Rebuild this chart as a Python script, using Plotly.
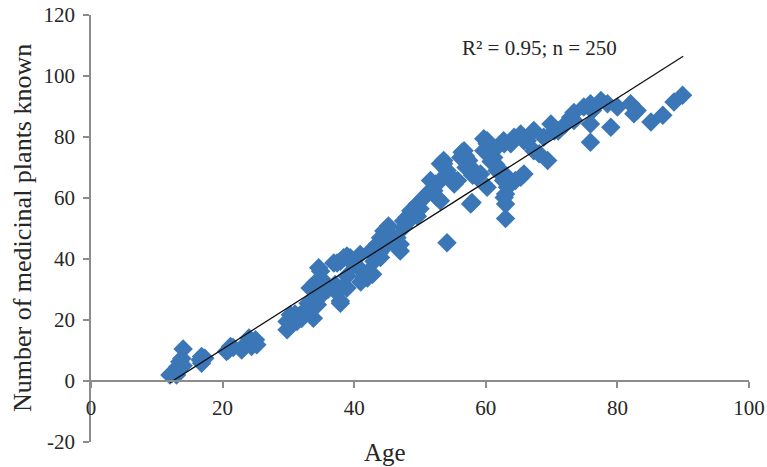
import plotly.graph_objects as go

# Age (x) and number of medicinal plants known (y)
age = [12.0, 12.3, 12.8, 13.2, 13.5, 13.8, 14.0, 14.0, 13.0,
       16.8, 16.8, 16.6, 17.3,
       20.9, 21.2, 20.6, 21.6,
       22.9, 23.4, 24.2, 25.0, 25.2, 24.4, 24.0, 23.8,
       29.8, 29.8, 30.3, 31.3, 31.8, 32.6, 33.3, 33.8, 34.4, 34.6, 33.3, 34.1,
       34.6, 34.9, 35.4, 35.9, 30.5, 31.0, 32.0, 33.0, 35.0,
       36.9, 37.4, 37.9, 38.4, 38.9, 37.1, 37.4, 37.9, 38.1, 38.9, 37.9, 38.9,
       39.4, 39.9, 40.9, 41.2, 42.0, 42.2, 43.0, 42.5, 41.5, 41.0, 42.8, 40.5,
       43.5, 44.0, 44.5, 45.0, 45.2, 44.5, 43.8,
       46.5, 47.0, 47.0, 47.5, 47.5, 48.0, 48.3, 48.6, 49.1, 49.6, 49.6, 50.6,
       51.1, 51.6, 51.6, 52.1, 52.4, 52.6, 53.1, 53.1, 53.1, 53.6, 53.6, 54.1,
       54.1, 55.2, 55.2, 55.7, 56.2, 56.4, 56.7, 56.9, 57.4, 57.7, 57.9, 58.2,
       58.7, 59.2, 59.7, 59.7, 60.2, 60.2, 60.2, 61.2, 61.2, 61.7, 62.7, 62.8,
       62.8, 63.0, 63.0, 63.0, 63.3, 62.7, 62.8, 54.1,
       63.8, 64.3, 64.5, 65.3, 65.3, 65.8, 65.8, 66.3, 67.3, 67.3, 68.1, 68.8,
       69.4, 69.9, 70.4, 71.0, 72.0, 72.9, 73.4, 73.4, 74.9, 75.9, 75.9, 75.9,
       76.2, 77.5, 78.5, 79.0, 80.0, 82.0, 82.5, 83.0, 85.1, 86.9, 88.6, 89.9,
       60.8, 61.5, 57.0, 58.0, 50.0, 46.0, 44.0, 36.0]
known = [2.0, 2.5, 3.1, 4.7, 6.3, 7.4, 10.5, 5.0, 2.0,
         8.0, 5.8, 7.0, 7.5,
         10.2, 11.3, 9.7, 11.0,
         10.2, 11.9, 12.9, 13.5, 11.9, 11.3, 14.1, 12.5,
         16.8, 19.5, 21.7, 19.5, 21.7, 22.8, 23.9, 20.6, 25.0, 27.2, 30.5, 32.2,
         37.1, 36.0, 29.4, 31.0, 18.5, 22.0, 20.5, 25.5, 33.5,
         38.7, 38.7, 39.3, 40.4, 41.0, 31.6, 28.9, 26.2, 30.5, 34.4, 25.5, 30.5,
         40.4, 38.2, 41.5, 36.0, 33.8, 36.0, 39.3, 42.6, 34.0, 32.5, 35.0, 37.5,
         44.8, 47.0, 49.2, 49.2, 50.8, 43.7, 42.0,
         47.0, 44.8, 42.6, 52.5, 50.3, 53.6, 52.5, 55.8, 55.8, 58.0, 54.0, 60.2,
         61.3, 62.4, 65.7, 62.4, 64.6, 60.2, 59.1, 65.7, 71.2, 72.3, 71.2, 69.0,
         67.9, 65.7, 64.6, 65.7, 73.3, 75.0, 75.5, 73.8, 72.3, 58.0, 58.5, 69.0,
         66.8, 67.9, 75.5, 79.4, 78.8, 77.8, 63.5, 73.3, 75.6, 69.0, 78.8, 77.8,
         67.9, 61.3, 58.0, 53.3, 63.5, 65.7, 60.2, 45.3,
         77.8, 79.9, 65.7, 81.0, 66.8, 78.8, 67.9, 78.8, 82.1, 75.5, 74.5, 79.9,
         72.3, 84.3, 82.0, 82.0, 84.0, 86.5, 85.4, 88.0, 89.8, 90.9, 84.3, 78.3,
         88.7, 92.0, 90.9, 83.2, 89.8, 90.9, 87.6, 88.7, 84.9, 87.1, 91.5, 93.7,
         72.0, 71.0, 70.0, 67.5, 56.5, 45.5, 40.5, 30.0]

# Linear trend line
trend_slope = 1.372
trend_intercept = -17.0
trend_range = [12.0, 90.0]

x_ticks = [0, 20, 40, 60, 80, 100]
x_tick_labels = ["0", "20", "40", "60", "80", "100"]
y_ticks = [-20, 0, 20, 40, 60, 80, 100, 120]
y_tick_labels = ["-20", "0", "20", "40", "60", "80", "100", "120"]
annotation_text = "R² = 0.95; n = 250"

FONT = "Liberation Serif, Times New Roman, serif"
TXT = "#262626"
AX = "#8c8c8c"

trend_y = [trend_intercept + trend_slope * v for v in trend_range]

fig = go.Figure()
fig.add_trace(go.Scatter(
    x=age, y=known, mode="markers",
    marker=dict(symbol="diamond", size=15, color="#3b77b7",
                line=dict(width=0)),
    showlegend=False, hoverinfo="skip"))
fig.add_trace(go.Scatter(
    x=trend_range, y=trend_y, mode="lines",
    line=dict(color="#111111", width=1.3),
    showlegend=False, hoverinfo="skip"))

y_min, y_max = -20, 120
x_pos = (0 - y_min) / (y_max - y_min)

W, H = 767, 467
L, R, T, B = 91, 18, 15, 25
PW, PH = W - L - R, H - T - B


def px_x(p):
    return (p - L) / PW


def px_y(p):
    return 1 - (p - T) / PH


fig.update_layout(
    width=W, height=H,
    margin=dict(l=L, r=R, t=T, b=B, autoexpand=False),
    paper_bgcolor="white", plot_bgcolor="white",
    font=dict(family=FONT, color=TXT, size=21),
    xaxis=dict(range=[0, 100], tickvals=x_ticks, ticktext=x_tick_labels,
               showgrid=False, automargin=False, ticklabeloverflow="allow",
               zeroline=False, showline=True, linecolor=AX, linewidth=1.5,
               ticks="outside", ticklen=6, tickcolor=AX, tickwidth=1.5,
               anchor="free", position=x_pos, ticklabelstandoff=2,
               tickfont=dict(family=FONT, size=21, color=TXT)),
    yaxis=dict(range=[y_min, y_max], tickvals=y_ticks, ticktext=y_tick_labels,
               showgrid=False, automargin=False, ticklabeloverflow="allow",
               zeroline=False, showline=True, linecolor=AX, linewidth=1.5,
               ticks="outside", ticklen=6, tickcolor=AX, tickwidth=1.5,
               ticklabelstandoff=4,
               tickfont=dict(family=FONT, size=21, color=TXT)),
    annotations=[
        dict(text=annotation_text, x=px_x(460), y=px_y(48),
             xref="paper", yref="paper",
             xanchor="left", yanchor="middle", showarrow=False,
             font=dict(family=FONT, size=21, color=TXT)),
        dict(text="Age", x=px_x(385), y=px_y(452),
             xref="paper", yref="paper",
             xanchor="center", yanchor="middle", showarrow=False,
             font=dict(family=FONT, size=25, color=TXT)),
        dict(text="Number of medicinal plants known", x=px_x(22),
             y=px_y(228), xref="paper", yref="paper",
             xanchor="center", yanchor="middle", showarrow=False, textangle=-90,
             font=dict(family=FONT, size=26, color=TXT)),
    ],
)

fig.write_html("out.html", config={"displayModeBar": False},
               post_script="document.body.style.margin='0px';")
